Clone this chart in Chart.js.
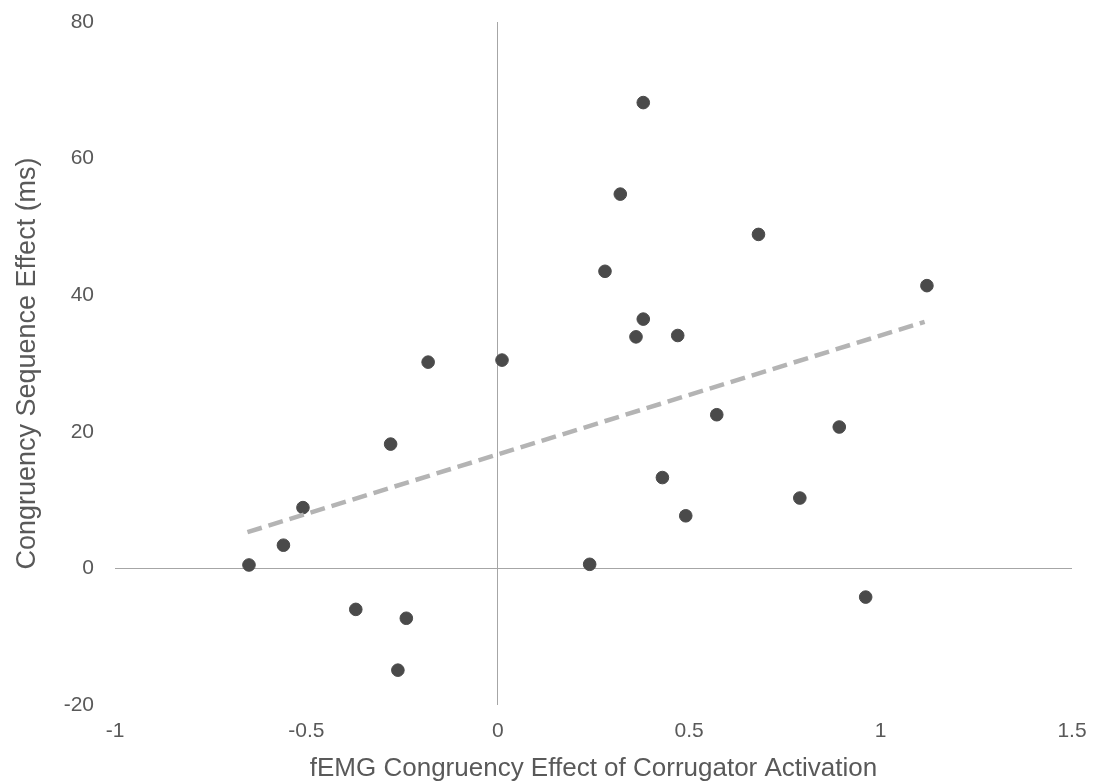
<!DOCTYPE html>
<html>
<head>
<meta charset="utf-8">
<script src="https://cdn.jsdelivr.net/npm/chart.js@4"></script>
<style>
  html, body { margin: 0; padding: 0; background: #ffffff; }
  #wrap { width: 1098px; height: 784px; }
</style>
</head>
<body>
<div id="wrap"><canvas id="c" width="1098" height="784"></canvas></div>
<script>
// fEMG congruency effect (x) vs congruency sequence effect in ms (y)
const xValues = [-0.650, -0.560, -0.509, -0.371, -0.280, -0.239, -0.261, -0.182, 0.011,
                 0.240, 0.280, 0.320, 0.380, 0.380, 0.361, 0.470, 0.430, 0.491,
                 0.572, 0.681, 0.789, 0.892, 0.961, 1.121];
const yValues = [0.5, 3.4, 8.9, -6.0, 18.2, -7.3, -14.9, 30.2, 30.5,
                 0.6, 43.5, 54.8, 68.2, 36.5, 33.9, 34.1, 13.3, 7.7,
                 22.5, 48.9, 10.3, 20.7, -4.2, 41.4];
// linear trendline endpoints
const trendX = [-0.654, 1.115];
const trendY = [5.3, 36.1];
const xTicks = [-1, -0.5, 0, 0.5, 1, 1.5];
const yTicks = [-20, 0, 20, 40, 60, 80];

const FONT = '"Liberation Sans", Arial, Helvetica, sans-serif';
const TEXT = '#595959';

const points = xValues.map((x, i) => ({ x: x, y: yValues[i] }));
const trend = trendX.map((x, i) => ({ x: x, y: trendY[i] }));

new Chart(document.getElementById('c'), {
  type: 'scatter',
  data: {
    datasets: [
      {
        label: 'Participants',
        data: points,
        backgroundColor: '#4a4a4a',
        borderColor: '#4a4a4a',
        pointRadius: 6.3,
        pointHoverRadius: 6.3,
        order: 2
      },
      {
        label: 'Trend',
        type: 'line',
        data: trend,
        showLine: true,
        borderColor: '#b4b4b4',
        borderWidth: 4.5,
        borderDash: [15, 7],
        borderCapStyle: 'butt',
        pointRadius: 0,
        fill: false,
        order: 1
      }
    ]
  },
  options: {
    responsive: false,
    animation: false,
    devicePixelRatio: 1,
    layout: { padding: { left: 0, right: 26, top: 22, bottom: 0 } },
    plugins: { legend: { display: false }, tooltip: { enabled: false } },
    scales: {
      x: {
        type: 'linear',
        min: -1, max: 1.5,
        afterBuildTicks: (s) => { s.ticks = xTicks.map(v => ({ value: v })); },
        afterFit: (s) => { s.height = 79; s.paddingLeft = 0; s.paddingRight = 0; },
        border: { display: false },
        grid: {
          drawTicks: false,
          color: (ctx) => (ctx.tick && ctx.tick.value === 0) ? '#a6a6a6' : 'rgba(0,0,0,0)',
          lineWidth: 1
        },
        ticks: {
          padding: 14,
          color: TEXT,
          font: { family: FONT, size: 21 },
          maxRotation: 0,
          callback: (v) => String(v)
        },
        title: {
          display: true,
          text: 'fEMG Congruency Effect of Corrugator Activation',
          color: TEXT,
          font: { family: FONT, size: 26 },
          padding: { top: 0, bottom: 0 }
        }
      },
      y: {
        type: 'linear',
        min: -20, max: 80,
        afterBuildTicks: (s) => { s.ticks = yTicks.map(v => ({ value: v })); },
        afterFit: (s) => { s.width = 115; s.paddingTop = 0; s.paddingBottom = 0; },
        border: { display: false },
        grid: {
          drawTicks: false,
          color: (ctx) => (ctx.tick && ctx.tick.value === 0) ? '#a6a6a6' : 'rgba(0,0,0,0)',
          lineWidth: 1
        },
        ticks: {
          padding: 21,
          color: TEXT,
          font: { family: FONT, size: 21 },
          callback: (v) => String(v)
        },
        title: {
          display: true,
          text: 'Congruency Sequence Effect (ms)',
          color: TEXT,
          font: { family: FONT, size: 27 },
          padding: { top: 11, bottom: 0 }
        }
      }
    }
  }
});
</script>
</body>
</html>
